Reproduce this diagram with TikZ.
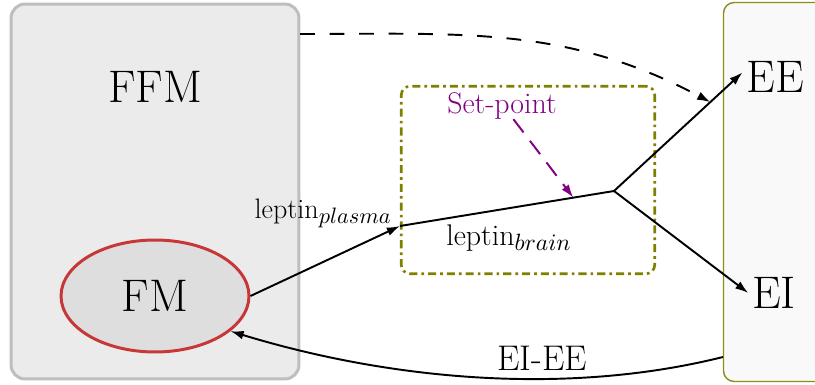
\documentclass[tikz,border=0pt]{standalone}
\DeclareFontShape{OML}{cmm}{m}{it}{<->cmmi10}{}
\DeclareMathSizes{17}{17}{13.4}{10}
\DeclareMathSizes{16}{16}{12.7}{10}
\usetikzlibrary{arrows.meta,shapes.geometric,calc}
\definecolor{boxgray}{HTML}{EBEBEB}
\definecolor{boxedge}{HTML}{BEBEBE}
\definecolor{fmfill}{HTML}{DEDEDE}
\definecolor{fmred}{HTML}{C83737}
\definecolor{olivec}{HTML}{808000}
\definecolor{sysfill}{HTML}{F9F9F9}
\definecolor{purp}{HTML}{800080}
\tikzset{
  bigtxt/.style={font=\fontsize{26}{31}\selectfont, inner sep=2pt},
  midtxt/.style={font=\fontsize{20.3}{24}\selectfont, inner sep=0pt},
  smalltxt/.style={font=\fontsize{17}{20}\selectfont, inner sep=0pt},
  plasmatxt/.style={font=\fontsize{16}{19}\selectfont, inner sep=0pt},
  ffmbox/.style={draw=boxedge, fill=boxgray, line width=1.7pt, rounded corners=8pt,
    minimum width=5.76cm, minimum height=7.5cm, inner sep=0pt},
  fmell/.style={ellipse, draw=fmred, fill=fmfill, line width=1.7pt,
    minimum width=3.76cm, minimum height=2.24cm, inner sep=0pt,
    font=\fontsize{26}{31}\selectfont},
  sysbox/.style={draw=olivec!90!white, fill=sysfill, line width=0.8pt, rounded corners=6pt,
    minimum width=3.53cm, minimum height=7.58cm, inner sep=0pt},
  brainbox/.style={draw=olivec, line width=1.5pt, rounded corners=5pt,
    dash pattern=on 4.6pt off 2.3pt on 1.5pt off 2.3pt,
    minimum width=5.07cm, minimum height=3.75cm, inner sep=0pt},
  tip/.style={-{Latex[length=7.5pt,width=5pt]}},
  conn/.style={line width=1.1pt, tip},
  plain/.style={line width=1.1pt},
  spconn/.style={line width=1.1pt, purp, dash pattern=on 9.5pt off 6pt, tip},
  fbconn/.style={line width=1.1pt, dash pattern=on 8.4pt off 8.4pt, tip},
}
\begin{document}
\begin{tikzpicture}[x=0.02cm,y=0.02cm]
\useasboundingbox (0,0) rectangle (815,-385);
% boxes
\node[ffmbox] (ffm) at (155,-191.5) {};
\node[sysbox] (sys) at (811.75,-192) {};
\node[brainbox] (brain) at (528,-180) {};
\node[fmell] (FM) at (155,-296) {FM};
% labels
\node[bigtxt] (ffmlab) at (155,-87) {FFM};
\node[bigtxt] (EE) at (775,-77) {EE};
\node[bigtxt] (EI) at (774,-293) {EI};
\node[smalltxt, text=purp, anchor=base west] (sp) at (447,-113) {Set-point};
\node[smalltxt, anchor=base west] (lb) at (446,-245) {leptin$_{brain}$};
\node[plasmatxt, anchor=base east] (lpl) at (392,-218) {leptin$_{plasma}$};
% coordinates
\coordinate (lp) at (400,-226);
\coordinate (br) at (614,-191);
\coordinate (ffmR) at (300,-34);
\coordinate (sysL) at (723,-357);
% connectors
\draw[conn] (FM.east) -- (lp);
\draw[plain] (lp) -- (br);
\draw[conn] (br) -- (EE.172);
\draw[conn] (br) -- (EI.west);
\draw[spconn] ([xshift=6.5]sp.south) -- ($(lp)!0.81!(br)$);
\draw[fbconn] (ffmR) to[out=0,in=152] ($(br)!0.75!(EE.172)$);
\draw[conn] (sysL) to[out=194,in=-17,looseness=0.85] (FM.-25);
\node[midtxt, anchor=base west] (eiee) at (497,-370) {EI-EE};
\end{tikzpicture}
\end{document}
